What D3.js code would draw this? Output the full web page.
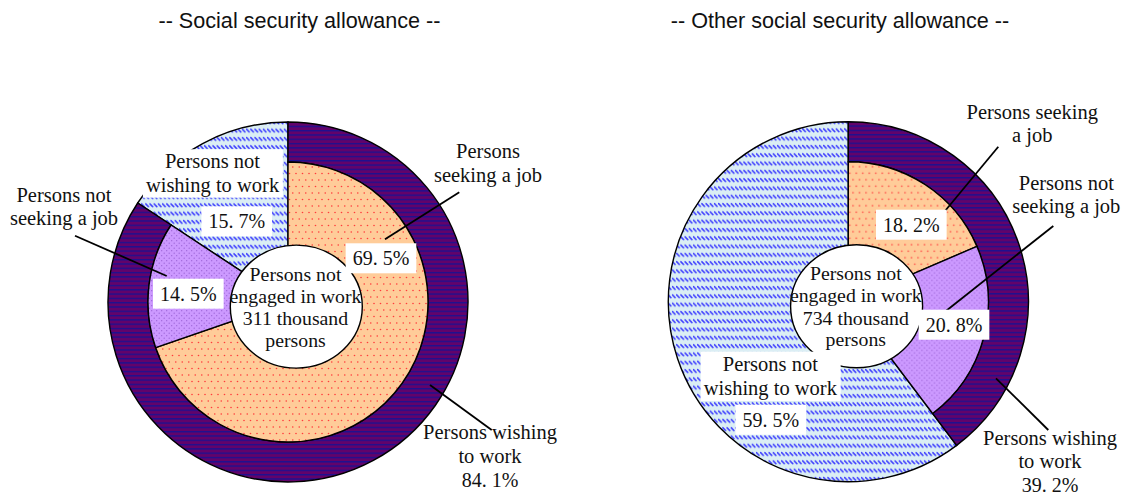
<!DOCTYPE html>
<html>
<head>
<meta charset="utf-8">
<script src="https://cdn.jsdelivr.net/npm/d3@7"></script>
<style>
  html, body { margin: 0; padding: 0; background: #fff; }
  svg { display: block; }
  .serif { font-family: "Liberation Serif", "Times New Roman", serif; fill: #111; }
  .title { font-family: "Liberation Sans", Arial, sans-serif; fill: #111; }
</style>
</head>
<body>
<svg id="chart" width="1126" height="495"></svg>
<script>
// ---- data ----
const titles = ["-- Social security allowance --", "-- Other social security allowance --"];
const totals = [311, 734];                 // thousand persons not engaged in work
const wishing = [84.1, 39.2];              // persons wishing to work (%)
const notWishing = [15.7, 59.5];           // persons not wishing to work (%)
const seeking = [69.5, 18.2];              // persons seeking a job (%)
const notSeeking = [14.5, 20.8];           // persons not seeking a job (%)

// ---- layout ----
const W = 1126, H = 495;
const centers = [[288, 302], [848.3, 301.7]];
const titlePos = [[299.5, 27.7], [840, 27.7]];
const rOuter = 180, rInner = 140;

// label placement, offsets from each pie centre
const layout = [
  {
    seeking:    { lines: ["Persons", "seeking a job"], x: 200, y: [-143.7, -120.3], lead: [[171.3, -109.7], [97, -62.7]],
                  pct: { x: 93, y: -36.7 } },
    notSeeking: { lines: ["Persons not", "seeking a job"], x: -224, y: [-100.3, -77], lead: [[-213, -66.3], [-121.3, -26]],
                  pct: { x: -99.7, y: -1.3 } },
    notWishing: { lines: ["Persons not", "wishing to work"], x: -75.5, y: [-133.7, -110.3], box: true,
                  pct: { x: -51.3, y: -73.7 } },
    wishing:    { lines: ["Persons wishing", "to work"], x: 202, y: [137.3, 160.7], lead: [[203.7, 128], [142, 83]],
                  pct: { x: 202, y: 185.3, plain: true } }
  },
  {
    seeking:    { lines: ["Persons seeking", "a job"], x: 184, y: [-182.4, -160], lead: [[150, -155], [96.7, -90.7]],
                  pct: { x: 63, y: -70 } },
    notSeeking: { lines: ["Persons not", "seeking a job"], x: 218, y: [-111.7, -88.4], lead: [[205, -75.7], [96.7, 10]],
                  pct: { x: 105.7, y: 30 } },
    notWishing: { lines: ["Persons not", "wishing to work"], x: -78, y: [69, 93.3], box: true,
                  pct: { x: -77.5, y: 125 } },
    wishing:    { lines: ["Persons wishing", "to work"], x: 201.7, y: [143.3, 166.6], lead: [[200, 128.3], [147.7, 76.6]],
                  pct: { x: 201.7, y: 190, plain: true } }
  }
];

const svg = d3.select("#chart");
const defs = svg.append("defs");

// fill patterns
const pWish = defs.append("pattern").attr("id", "pWish").attr("patternUnits", "userSpaceOnUse")
  .attr("width", 8).attr("height", 4.3);
pWish.append("rect").attr("width", 8).attr("height", 4.3).attr("fill", "#62036a");
pWish.append("rect").attr("width", 8).attr("height", 1.4).attr("fill", "#1e1090");

const pSeek = defs.append("pattern").attr("id", "pSeek").attr("patternUnits", "userSpaceOnUse")
  .attr("width", 13).attr("height", 13);
pSeek.append("rect").attr("width", 13).attr("height", 13).attr("fill", "#ffcc99");
[[1.5, 1.5], [8, 1.5], [4.75, 8], [11.25, 8]].forEach(([x, y]) =>
  pSeek.append("circle").attr("cx", x).attr("cy", y).attr("r", 0.8).attr("fill", "#ff3b3b"));

const pNotSeek = defs.append("pattern").attr("id", "pNotSeek").attr("patternUnits", "userSpaceOnUse")
  .attr("width", 5).attr("height", 5);
pNotSeek.append("rect").attr("width", 5).attr("height", 5).attr("fill", "#cc99ff");
pNotSeek.append("circle").attr("cx", 1.2).attr("cy", 1.2).attr("r", 0.65).attr("fill", "#9a62d6");
pNotSeek.append("circle").attr("cx", 3.7).attr("cy", 3.7).attr("r", 0.65).attr("fill", "#9a62d6");

const pNotWish = defs.append("pattern").attr("id", "pNotWish").attr("patternUnits", "userSpaceOnUse")
  .attr("width", 4.2).attr("height", 8.3);
pNotWish.append("rect").attr("width", 4.2).attr("height", 8.3).attr("fill", "#dbeef4");
pNotWish.append("line").attr("x1", 0.5).attr("y1", 1.5).attr("x2", 3.2).attr("y2", 4.2)
  .attr("stroke", "#3d3dff").attr("stroke-width", 1.5).attr("stroke-linecap", "round");

const outerPie = d3.pie().sort(null).value(d => d);
const arcFull = d3.arc().innerRadius(0).outerRadius(rOuter);
const arcRing = d3.arc().innerRadius(rInner).outerRadius(rOuter);
const arcCore = d3.arc().innerRadius(0).outerRadius(rInner);
const fmtPct = v => d3.format(".1f")(v).replace(".", ". ") + "%";

function multiline(g, lines, x, ys, size) {
  const t = g.append("text").attr("class", "serif").attr("text-anchor", "middle")
    .style("font-size", size + "px");
  lines.forEach((s, i) => t.append("tspan").attr("x", x).attr("y", ys[i]).text(s));
  return t;
}

function boxed(g, textSel, padX, padY) {
  const b = textSel.node().getBBox();
  g.insert("rect", () => textSel.node())
    .attr("x", b.x - padX).attr("y", b.y - padY)
    .attr("width", b.width + 2 * padX).attr("height", b.height + 2 * padY)
    .attr("fill", "#fff");
}

titles.forEach((title, i) => {
  svg.append("text").attr("class", "title")
    .attr("x", titlePos[i][0]).attr("y", titlePos[i][1])
    .attr("text-anchor", "middle").style("font-size", "21.6px")
    .text(title);

  const [cx, cy] = centers[i];
  const g = svg.append("g").attr("transform", `translate(${cx},${cy})`);

  // outer split: wishing vs not wishing
  const [aWish, aNotWish] = outerPie([wishing[i], notWishing[i]]);
  // inner split of the wishing sector: seeking vs not seeking
  const innerPie = d3.pie().sort(null).value(d => d)
    .startAngle(aWish.startAngle).endAngle(aWish.endAngle);
  const [aSeek, aNotSeek] = innerPie([seeking[i], notSeeking[i]]);

  g.append("path").attr("d", arcFull(aNotWish)).attr("fill", "url(#pNotWish)")
    .attr("stroke", "#000").attr("stroke-width", 1.4);
  g.append("path").attr("d", arcRing(aWish)).attr("fill", "url(#pWish)")
    .attr("stroke", "#000").attr("stroke-width", 1.4);
  g.append("path").attr("d", arcCore(aSeek)).attr("fill", "url(#pSeek)")
    .attr("stroke", "#000").attr("stroke-width", 1.4);
  g.append("path").attr("d", arcCore(aNotSeek)).attr("fill", "url(#pNotSeek)")
    .attr("stroke", "#000").attr("stroke-width", 1.4);

  // centre caption
  g.append("ellipse").attr("cx", 8.3).attr("cy", 4.6).attr("rx", 66).attr("ry", 61.5)
    .attr("fill", "#fff").attr("stroke", "#000").attr("stroke-width", 1.4);
  multiline(g, ["Persons not", "engaged in work", `${totals[i]} thousand`, "persons"],
    7.5, [-21.5, 0.7, 23, 44.5], 19.8);

  // labels
  const L = layout[i];
  const values = { seeking: seeking[i], notSeeking: notSeeking[i], notWishing: notWishing[i], wishing: wishing[i] };
  Object.keys(L).forEach(key => {
    const o = L[key];
    if (o.lead) {
      g.append("line").attr("x1", o.lead[0][0]).attr("y1", o.lead[0][1])
        .attr("x2", o.lead[1][0]).attr("y2", o.lead[1][1])
        .attr("stroke", "#000").attr("stroke-width", 1.8);
    }
    const t = multiline(g, o.lines, o.x, o.y, 20.5);
    if (o.box) boxed(g, t, 3, 1);
    const p = g.append("text").attr("class", "serif").attr("text-anchor", "middle")
      .attr("x", o.pct.x).attr("y", o.pct.y).style("font-size", "20px")
      .text(fmtPct(values[key]));
    if (!o.pct.plain) boxed(g, p, 7, 4);
  });
});
</script>
</body>
</html>
